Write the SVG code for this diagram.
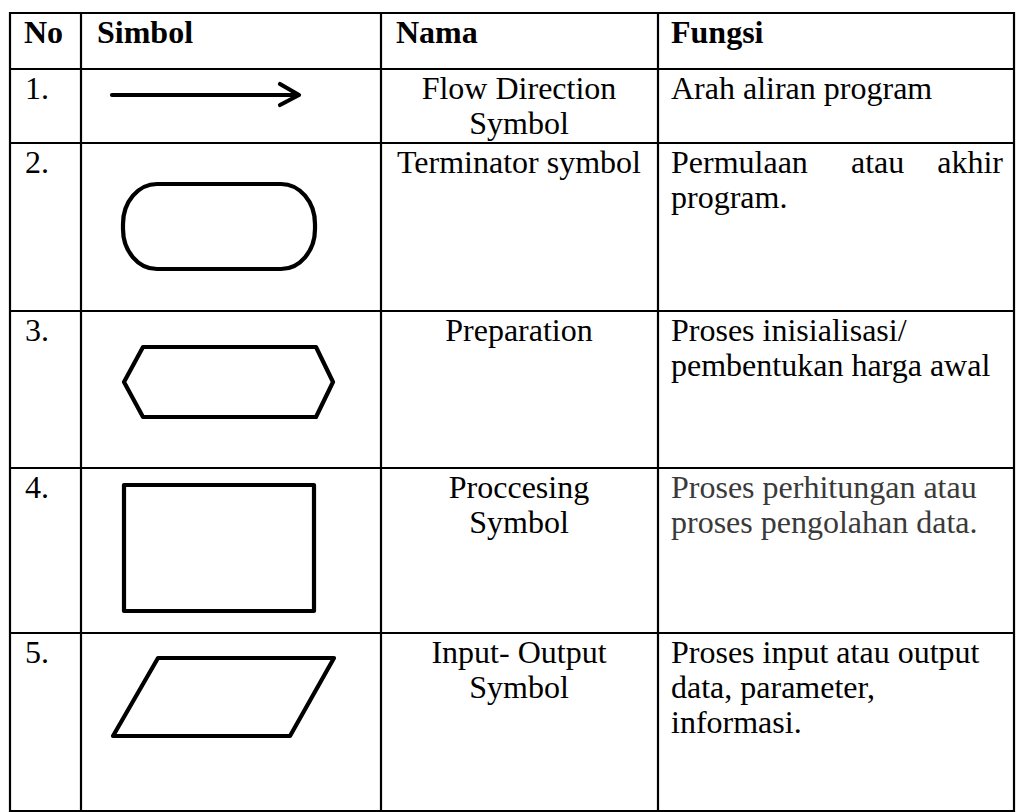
<svg xmlns="http://www.w3.org/2000/svg" width="1016" height="812" viewBox="0 0 1016 812">
<style>
.grid line{stroke:#000;stroke-width:2.2}
.t{font-family:"Liberation Serif","Times New Roman",serif;font-size:32px;fill:#000}
.b{font-weight:bold}
.c{text-anchor:middle}
.g{fill:#3a3a3a}
.shape{fill:none;stroke:#000;stroke-width:4.2;stroke-linejoin:round;stroke-linecap:round}
</style>
<rect width="1016" height="812" fill="#fff"/>
<g id="grid" class="grid">
<line x1="10" y1="13" x2="1014" y2="13"/>
<line x1="10" y1="69" x2="1014" y2="69"/>
<line x1="10" y1="143" x2="1014" y2="143"/>
<line x1="10" y1="311" x2="1014" y2="311"/>
<line x1="10" y1="468" x2="1014" y2="468"/>
<line x1="10" y1="633" x2="1014" y2="633"/>
<line x1="10" y1="811" x2="1014" y2="811"/>
<line x1="10" y1="12" x2="10" y2="812"/>
<line x1="81" y1="12" x2="81" y2="812"/>
<line x1="381" y1="12" x2="381" y2="812"/>
<line x1="658" y1="12" x2="658" y2="812"/>
<line x1="1014" y1="12" x2="1014" y2="812"/>
</g>
<g id="header">
<text class="t b" x="24" y="43">No</text>
<text class="t b" x="97" y="43">Simbol</text>
<text class="t b" x="396" y="43">Nama</text>
<text class="t b" x="671" y="43">Fungsi</text>
</g>
<g id="connectors">
<g id="row1-flow-direction">
<line class="shape" x1="112" y1="95" x2="298" y2="95"/>
<polyline class="shape" points="280,84 299,95 280,105"/>
</g>
</g>
<g id="row1">
<text class="t" x="25" y="99">1.</text>
<text class="t c" x="519" y="99">Flow Direction</text>
<text class="t c" x="519" y="134">Symbol</text>
<text class="t" x="671" y="99">Arah aliran program</text>
</g>
<g id="row2">
<text class="t" x="25" y="173">2.</text>
<rect class="shape" x="123" y="184" width="192" height="85" rx="34" ry="40"/>
<text class="t c" x="519" y="173">Terminator symbol</text>
<text class="t" x="671" y="173">Permulaan</text>
<text class="t" x="851" y="173">atau</text>
<text class="t" x="1003" y="173" text-anchor="end">akhir</text>
<text class="t" x="671" y="208">program.</text>
</g>
<g id="row3">
<text class="t" x="25" y="341">3.</text>
<polygon class="shape" points="143,347 316,347 333,382 316,417 143,417 124,382"/>
<text class="t c" x="519" y="341">Preparation</text>
<text class="t" x="671" y="341">Proses inisialisasi/</text>
<text class="t" x="671" y="376">pembentukan harga awal</text>
</g>
<g id="row4">
<text class="t" x="25" y="498">4.</text>
<rect class="shape" x="124" y="485" width="190" height="126"/>
<text class="t c" x="519" y="498">Proccesing</text>
<text class="t c" x="519" y="533">Symbol</text>
<text class="t g" x="671" y="498">Proses perhitungan atau</text>
<text class="t g" x="671" y="533">proses pengolahan data.</text>
</g>
<g id="row5">
<text class="t" x="25" y="663">5.</text>
<polygon class="shape" points="158,658 334,658 290,736 113,736"/>
<text class="t c" x="519" y="663">Input- Output</text>
<text class="t c" x="519" y="698">Symbol</text>
<text class="t" x="671" y="663">Proses input atau output</text>
<text class="t" x="671" y="698">data, parameter,</text>
<text class="t" x="671" y="733">informasi.</text>
</g>
</svg>
